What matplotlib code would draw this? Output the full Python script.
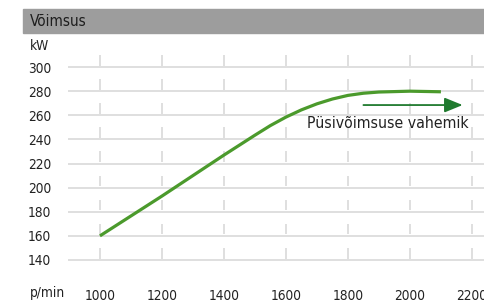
# График мощности двигателя (Võimsus) в зависимости от оборотов

import matplotlib.pyplot as plt
from matplotlib.patches import Rectangle
from matplotlib import font_manager

rpm = [1000, 1200, 1400, 1500, 1550, 1600, 1650, 1700, 1750, 1800, 1850, 1900, 2000, 2100]  # обороты, p/min
power = [160, 193, 227, 243.5, 251.5, 258.5, 264.5, 269.5, 273.5, 276.5, 278.3, 279.3, 280, 279.5]  # kW

x_ticks = [1000, 1200, 1400, 1600, 1800, 2000, 2200]
y_ticks = [140, 160, 180, 200, 220, 240, 260, 280, 300]

arrow_rpm = [1850, 2170]   # стрелка диапазона постоянной мощности
arrow_kw = 268.5

# узкий шрифт, если есть
names = {f.name for f in font_manager.fontManager.ttflist}
narrow = [n for n in ['Liberation Sans Narrow', 'DejaVu Sans Condensed'] if n in names]
plt.rcParams['font.family'] = narrow + ['DejaVu Sans']
plt.rcParams['font.stretch'] = 'condensed'

W, H = 484, 302
fig = plt.figure(figsize=(W / 100, H / 100), dpi=100)

# Оси: 1000 -> x=100px, 200 оборотов = 62px; 300 -> y=67px, 20 kW = 24px
xmin, xmax = 897, 2239
ymin, ymax = 138, 311
left = 68
bottom_px = 260 + (140 - ymin) * 1.2
top_px = 67 - (ymax - 300) * 1.2
ax = fig.add_axes([left / W, (H - bottom_px) / H, (W - left) / W, (bottom_px - top_px) / H])
ax.set_xlim(xmin, xmax)
ax.set_ylim(ymin, ymax)
for s in ax.spines.values():
    s.set_visible(False)

# Сетка: горизонтальные линии и короткие вертикальные отрезки
grid_color = '#dcdcdc'
ax.hlines(y_ticks, xmin, xmax, color=grid_color, lw=1.3, zorder=1)
for xt in x_ticks:
    for yt in y_ticks:
        ax.vlines(xt, yt + 1.2, yt + 10, color=grid_color, lw=1.3, zorder=1)

# Кривая мощности
ax.plot(rpm, power, color='#4b9a2c', lw=2.3, solid_capstyle='butt',
        solid_joinstyle='round', zorder=3)

# Стрелка и подпись
ax.annotate('', xy=(arrow_rpm[1], arrow_kw), xytext=(arrow_rpm[0], arrow_kw),
            arrowprops=dict(arrowstyle='-|>,head_length=1.1,head_width=0.45',
                            color='#1f7a2e', lw=1.3, shrinkA=0, shrinkB=0), zorder=4)
ax.text(1929, 253.5, 'Püsivõimsuse vahemik', fontsize=11.3, color='#222222',
        ha='center', va='center', zorder=4)

ax.set_xticks(x_ticks)
ax.set_xticklabels([str(v) for v in x_ticks], fontsize=9.8, color='#222222')
ax.set_yticks(y_ticks)
ax.set_yticklabels([str(v) for v in y_ticks], fontsize=9.8, color='#222222')
ax.tick_params(axis='x', length=0, pad=19)
ax.tick_params(axis='y', length=0, pad=12)

# Заголовок в серой полосе
fig.patches.append(Rectangle((23 / W, 1 - 33 / H), 1, 24 / H, transform=fig.transFigure,
                             color='#9d9d9d', zorder=0))
fig.text(30 / W, 1 - 22 / H, 'Võimsus', fontsize=11, color='#1e1e1e', va='center', ha='left')
fig.text(30 / W, 1 - 46 / H, 'kW', fontsize=9.8, color='#222222', va='center', ha='left')
fig.text(30 / W, 1 - 293 / H, 'p/min', fontsize=9.8, color='#222222', va='center', ha='left')

plt.savefig('out.png', dpi=100)
